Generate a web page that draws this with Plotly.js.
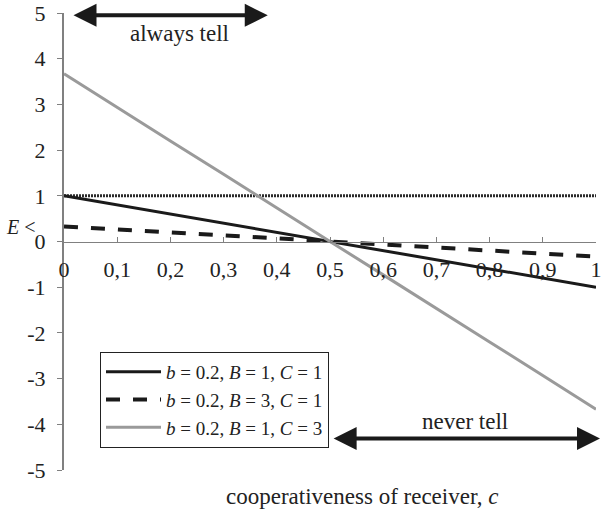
<!DOCTYPE html>
<html>
<head>
<meta charset="utf-8">
<script src="https://cdn.plot.ly/plotly-3.0.1.min.js"></script>
<style>html,body{margin:0;padding:0;background:#fff;}</style>
</head>
<body>
<div id="chart" style="width:602px;height:516px;"></div>
<script>
// cooperativeness of receiver, c
const c = [0, 0.1, 0.2, 0.3, 0.4, 0.5, 0.6, 0.7, 0.8, 0.9, 1];
// threshold E for each parameter set
const seriesB1C1 = [1, 0.8, 0.6, 0.4, 0.2, 0, -0.2, -0.4, -0.6, -0.8, -1];
const seriesB3C1 = [0.33, 0.27, 0.2, 0.13, 0.07, 0, -0.07, -0.13, -0.2, -0.27, -0.33];
const seriesB1C3 = [3.67, 2.93, 2.2, 1.47, 0.73, 0, -0.73, -1.47, -2.2, -2.93, -3.67];
const referenceLine = [1, 1, 1, 1, 1, 1, 1, 1, 1, 1, 1];
const seriesNames = [
  '<i>b</i> = 0.2, <i>B</i> = 1, <i>C</i> = 1',
  '<i>b</i> = 0.2, <i>B</i> = 3, <i>C</i> = 1',
  '<i>b</i> = 0.2, <i>B</i> = 1, <i>C</i> = 3'
];
const xTickVals = [0, 0.1, 0.2, 0.3, 0.4, 0.5, 0.6, 0.7, 0.8, 0.9, 1];
const yTickVals = [5, 4, 3, 2, 1, 0, -1, -2, -3, -4, -5];
const yTickText = ['5', '4', '3', '2', '1', '0', '-1', '-2', '-3', '-4', '-5'];
// region annotations
const alwaysTell = {label: 'always tell', from: 0.015, to: 0.383, E: 4.95, textC: 0.218, textE: 4.55};
const neverTell = {label: 'never tell', from: 0.504, to: 1.0075, E: -4.31, textC: 0.753, textE: -3.93};

const FONT = 'Liberation Serif';

const traces = [
  {x: c, y: referenceLine, mode: 'lines', showlegend: false,
   line: {color: '#2a2a2a', width: 3, dash: '2px,1px'}},
  {x: c, y: seriesB1C1, mode: 'lines', name: seriesNames[0],
   line: {color: '#1a1a1a', width: 3}},
  {x: c, y: seriesB3C1, mode: 'lines', name: seriesNames[1],
   line: {color: '#1a1a1a', width: 4, dash: '14px,13px'}},
  {x: c, y: seriesB1C3, mode: 'lines', name: seriesNames[2],
   line: {color: '#9a9a9a', width: 3}}
];

function arrow(r) {
  return [
    {x: r.to, y: r.E, ax: r.from, ay: r.E, xref: 'x', yref: 'y', axref: 'x', ayref: 'y',
     text: '', showarrow: true, arrowhead: 2, startarrowhead: 2, arrowside: 'end+start',
     arrowwidth: 4, arrowsize: 1.15, startarrowsize: 1.15, arrowcolor: '#1a1a1a'},
    {x: r.textC, y: r.textE, xref: 'x', yref: 'y', text: r.label, showarrow: false,
     xanchor: 'center', yanchor: 'middle',
     font: {family: FONT, size: 23, color: '#222'}}
  ];
}

const layout = {
  width: 602, height: 516,
  margin: {l: 64, r: 6, t: 13, b: 46},
  paper_bgcolor: '#fff', plot_bgcolor: '#fff',
  separators: ', ',
  font: {family: FONT, size: 20, color: '#222'},
  showlegend: true,
  legend: {x: (100 - 64) / 532, y: (470 - 352) / 457, xanchor: 'left', yanchor: 'top',
           bordercolor: '#222', borderwidth: 1, bgcolor: '#fff', itemwidth: 55,
           font: {family: FONT, size: 19, color: '#222'}, tracegroupgap: 0},
  xaxis: {range: [0, 1], tickvals: xTickVals, anchor: 'free', position: 0.5,
          showgrid: false, zeroline: false, showline: true, linecolor: '#808080', linewidth: 1,
          ticks: 'inside', ticklen: 5, tickcolor: '#808080', ticklabeloverflow: 'allow',
          ticklabelstandoff: 8,
          tickfont: {family: FONT, size: 22, color: '#222'}},
  yaxis: {range: [-5, 5], tickvals: yTickVals, ticktext: yTickText,
          showgrid: false, zeroline: false, showline: true, linecolor: '#808080', linewidth: 2,
          ticks: 'outside', ticklen: 5, tickcolor: '#808080', ticklabelstandoff: 7,
          tickfont: {family: FONT, size: 22, color: '#222'}},
  annotations: [
    ...arrow(alwaysTell),
    ...arrow(neverTell),
    {x: (362 - 64) / 532, y: -(496 - 470) / 457, xref: 'paper', yref: 'paper',
     xanchor: 'center', yanchor: 'middle',
     text: 'cooperativeness of receiver, <i>c</i>', showarrow: false,
     font: {family: FONT, size: 23, color: '#222'}},
    {x: (21 - 64) / 532, y: (470 - 227) / 457, xref: 'paper', yref: 'paper',
     xanchor: 'center', yanchor: 'middle',
     text: '<i>E</i> <', showarrow: false,
     font: {family: FONT, size: 20, color: '#222'}}
  ]
};

Plotly.newPlot('chart', traces, layout, {displayModeBar: false, staticPlot: true});
</script>
</body>
</html>
